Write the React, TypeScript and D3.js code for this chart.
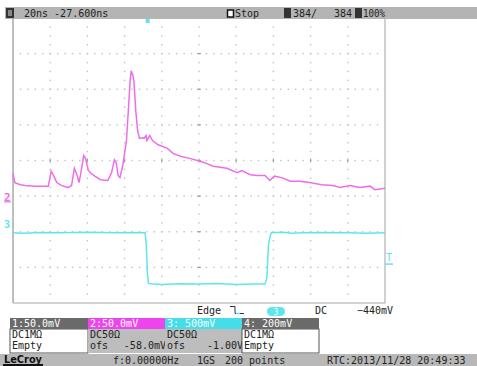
import React from "react";
import * as d3 from "d3";

// time in ns from left edge of screen, value in mV
const ch2Trace: [number, number][] = [
  [0, 40], [1, 27], [4, 24], [6.5, 23], [12, 22], [19, 22], [20.5, 43], [22, 36], [23.5, 27],
  [26, 23], [29.5, 20], [31.5, 23], [33, 47], [34.5, 37], [35.5, 27], [36.5, 41], [38, 65],
  [39, 61], [40.5, 44], [42, 40], [44, 36], [47, 31], [51, 30], [53, 41], [54.5, 59],
  [55.5, 55], [56.5, 37], [57.5, 34], [59, 51], [61, 86], [62, 128], [63, 170], [63.5, 184],
  [64.5, 177], [65, 170], [66, 128], [67, 100], [68, 89], [69.5, 90], [70.5, 89], [71.5, 93],
  [72, 86], [73.5, 93], [75, 86], [78, 80], [83, 75], [86, 68], [90, 64], [95, 61],
  [100.5, 57], [104, 54], [107.5, 50], [115, 47], [120.5, 41], [123, 44], [127.5, 38],
  [131.5, 37], [135.5, 37], [138, 30], [140.5, 36], [144.5, 34], [149, 29], [154, 29],
  [159.5, 27], [166, 24], [172, 23], [176, 20], [181, 23], [186.5, 20], [192, 22],
  [194.5, 17], [200, 19],
];

const ch3Trace: [number, number][] = [
  [0, -14], [5, -20], [15, -10], [25, -14], [40, -7], [55, -14], [65, -10], [71, -14],
  [71.6, -150], [72.3, -600], [72.8, -720], [73.5, -725], [76, -735], [80, -740], [90, -730],
  [100, -735], [110, -728], [120, -740], [130, -735], [135.5, -735], [136.5, -650],
  [137.3, -200], [138.2, -60], [139, -14], [145, -7], [150, -20], [155, -14], [165, -10],
  [180, -14], [190, -20], [200, -14],
];

const timeDiv = 20; // ns/div
const delay = -27.6; // ns
const ch2Scale = 50; // mV/div
const ch2Offset = -58; // mV
const ch3Scale = 500;
const ch3Offset = -1000;
const trigLevel = -440; // mV on ch3

const headerItems = ["20ns -27.600ns", "Stop", "384/", "384", "100%"];
const chanHeads = ["1:50.0mV", "2:50.0mV", "3: 500mV", "4: 200mV"];
const chanCoupling = ["DC1M\u03a9", "DC50\u03a9", "DC50\u03a9", "DC1M\u03a9"];
const chanOfs = ["Empty", "-58.0mV", "-1.00V", "Empty"];
const statusItems = ["f:0.00000Hz", "1GS", "200 points", "RTC:2013/11/28 20:49:33"];

const W = 477;
const H = 366;
const gx0 = 13, gx1 = 385, gy0 = 18, gy1 = 303;
const MAG = "#ee6ee8";
const CYA = "#5ee6ee";
const mono = "DejaVu Sans Mono, monospace";

export default function App() {
  const x = d3.scaleLinear().domain([0, 10 * timeDiv]).range([gx0, gx1]);
  const divH = (gy1 - gy0) / 8;
  const yc = (gy0 + gy1) / 2;
  const y2 = d3.scaleLinear()
    .domain([-ch2Offset - 4 * ch2Scale, -ch2Offset + 4 * ch2Scale])
    .range([gy1, gy0]);
  const y3 = d3.scaleLinear()
    .domain([-ch3Offset - 4 * ch3Scale, -ch3Offset + 4 * ch3Scale])
    .range([gy1, gy0]);

  const line2 = d3.line<[number, number]>().x(d => x(d[0])).y(d => y2(d[1]));
  const line3 = d3.line<[number, number]>().x(d => x(d[0])).y(d => y3(d[1]));

  const divW = (gx1 - gx0) / 10;
  const dots: JSX.Element[] = [];
  // horizontal grid rows
  for (let j = 1; j < 8; j++) {
    const yy = gy0 + j * divH;
    for (let k = 1; k < 50; k++) {
      dots.push(<rect key={`h${j}-${k}`} x={gx0 + k * divW / 5 - 0.7} y={yy - 0.7} width={1.4} height={1.4} fill="#c0c0c0" />);
    }
  }
  // vertical grid columns
  for (let i = 1; i < 10; i++) {
    const xx = gx0 + i * divW;
    for (let k = 1; k < 32; k++) {
      dots.push(<rect key={`v${i}-${k}`} x={xx - 0.7} y={gy0 + k * divH / 4 - 0.7} width={1.4} height={1.4} fill="#c0c0c0" />);
    }
  }
  // center ticks
  const xm = gx0 + 5 * divW;
  for (let i = 1; i < 10; i++) {
    dots.push(<line key={`ct${i}`} x1={gx0 + i * divW} x2={gx0 + i * divW} y1={yc - 2} y2={yc + 2} stroke="#999" strokeWidth={1} />);
  }
  for (let j = 1; j < 8; j++) {
    dots.push(<line key={`cv${j}`} x1={xm - 2} x2={xm + 2} y1={gy0 + j * divH} y2={gy0 + j * divH} stroke="#999" strokeWidth={1} />);
  }

  const trigX = x(5 * timeDiv + delay);
  const trigY = y3(trigLevel);

  const boxX = [10, 88, 165, 242, 319];
  const headFill = ["#6a6a6a", "#ee44ee", "#44dde8", "#6a6a6a"];
  const bodyFill = ["#ffffff", "#bdbdbd", "#bdbdbd", "#ffffff"];

  return (
    <svg width={W} height={H} style={{ position: "absolute", left: 0, top: 0, background: "#fff" }}
      fontFamily={mono} fontSize={10}>
      <rect x={0} y={0} width={W} height={H} fill="#fff" />

      {dots}
      <line x1={gx0} x2={gx0} y1={gy0} y2={gy1} stroke="#a8a8a8" strokeWidth={1.5} />
      <line x1={gx1} x2={gx1} y1={gy0} y2={gy1} stroke="#d0d0d0" strokeWidth={2} />
      <line x1={gx0} x2={gx1} y1={gy1} y2={gy1} stroke="#a8a8a8" strokeWidth={1.2} />

      <path d={line3(ch3Trace) || ""} fill="none" stroke={CYA} strokeWidth={1.5} />
      <path d={line2(ch2Trace) || ""} fill="none" stroke={MAG} strokeWidth={1.5} />

      {/* channel ground markers */}
      <text x={4} y={y2(0) - 1} fill={MAG} fontWeight="bold" fontSize={11}>2</text>
      <line x1={4} x2={11} y1={y2(0)} y2={y2(0)} stroke={MAG} strokeWidth={1.2} />
      <text x={4} y={y3(0) - 4} fill={CYA} fontWeight="bold" fontSize={10}>3</text>

      {/* trigger level / position */}
      <text x={386} y={trigY - 2} fill={CYA} fontSize={10}>T</text>
      <line x1={385} x2={393} y1={trigY + 1} y2={trigY + 1} stroke={CYA} strokeWidth={1.5} />
      <rect x={trigX - 2} y={19} width={4} height={4} fill={CYA} />

      {/* header bar */}
      <rect x={5} y={7} width={W - 5} height={12} fill="#b4b4b4" />
      <rect x={6} y={8} width={8} height={10} fill="#333" />
      <rect x={8} y={10} width={4} height={6} fill="#888" />
      <text x={24} y={17} fill="#222">{headerItems[0]}</text>
      <rect x={227.5} y={10} width={6} height={7} fill="#fff" stroke="#111" strokeWidth={1.5} />
      <text x={235} y={17} fill="#222">{headerItems[1]}</text>
      <rect x={284} y={8} width={7} height={10} fill="#333" />
      <text x={293} y={17} fill="#222">{headerItems[2]}</text>
      <text x={334} y={17} fill="#222">{headerItems[3]}</text>
      <rect x={355} y={8} width={7} height={10} fill="#333" />
      <text x={363} y={17} fill="#222" textLength={22} lengthAdjust="spacingAndGlyphs">{headerItems[4]}</text>

      {/* trigger setup row */}
      <text x={197} y={314} fill="#222">Edge</text>
      <path d="M230,306.5 h5 v7 h9" fill="none" stroke="#333" strokeWidth={1} />
      <line x1={236} x2={240} y1={313.5} y2={313.5} stroke={CYA} strokeWidth={1.5} />
      <rect x={267} y={307} width={18} height={9} rx={4.5} fill={CYA} />
      <text x={276} y={315} fill="#fff" textAnchor="middle" fontSize={8}>3</text>
      <text x={315} y={314} fill="#222">DC</text>
      <text x={357} y={314} fill="#222">{"\u2212440mV"}</text>

      {/* channel boxes */}
      {chanHeads.map((h, i) => (
        <g key={h}>
          <rect x={boxX[i]} y={329} width={boxX[i + 1] - boxX[i]} height={24} fill={bodyFill[i]}
            stroke={bodyFill[i] === "#ffffff" ? "#555" : "none"} strokeWidth={1} />
          <rect x={boxX[i]} y={318} width={boxX[i + 1] - boxX[i]} height={11} fill={headFill[i]} />
          <text x={boxX[i] + 2} y={327} fill="#fff">{h}</text>
          <text x={boxX[i] + 2} y={338} fill="#222">{chanCoupling[i]}</text>
          {chanOfs[i] === "Empty" ? (
            <text x={boxX[i] + 2} y={349} fill="#222">{chanOfs[i]}</text>
          ) : (
            <g>
              <text x={boxX[i] + 2} y={349} fill="#222">ofs</text>
              <text x={boxX[i + 1] + 1} y={349} fill="#222" textAnchor="end">{chanOfs[i]}</text>
            </g>
          )}
        </g>
      ))}

      {/* status bar */}
      <rect x={0} y={354} width={W} height={12} fill="#b8b8b8" />
      <text x={4} y={363} fill="#111" fontFamily="DejaVu Sans, sans-serif" fontSize={10} fontWeight="bold"
        textLength={38} lengthAdjust="spacingAndGlyphs">LeCroy</text>
      <rect x={3} y={364} width={40} height={2} fill="#111" />
      <text x={113} y={364} fill="#222">{statusItems[0]}</text>
      <text x={197} y={364} fill="#222">{statusItems[1]}</text>
      <text x={225} y={364} fill="#222">{statusItems[2]}</text>
      <text x={327} y={364} fill="#222">{statusItems[3]}</text>
    </svg>
  );
}
